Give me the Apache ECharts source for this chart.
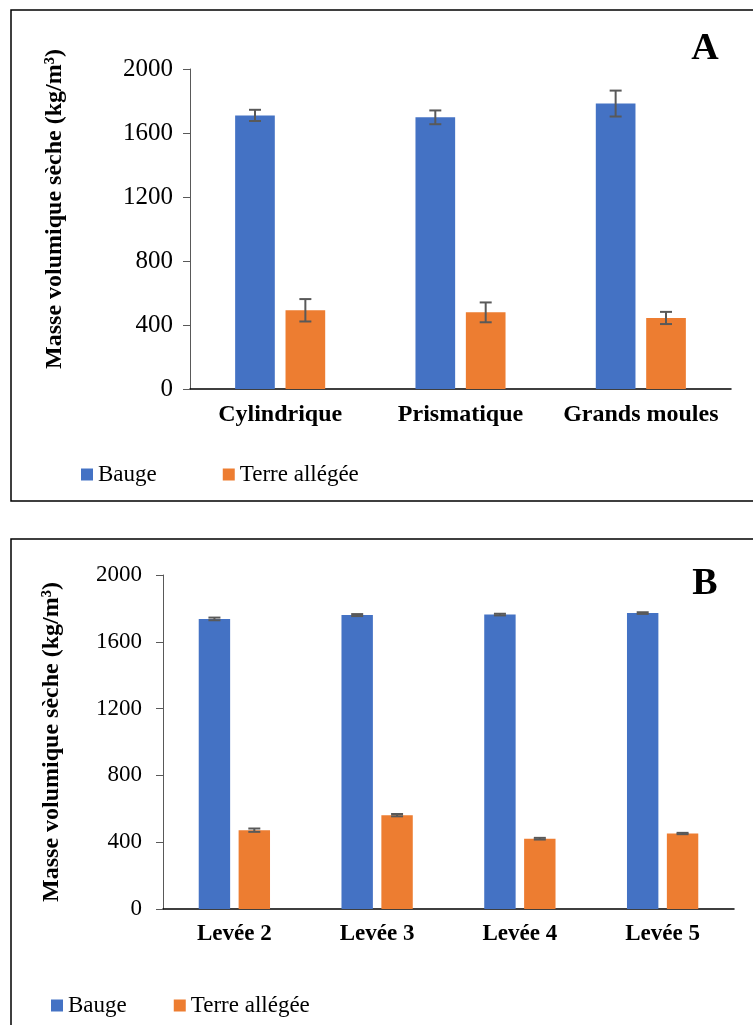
<!DOCTYPE html>
<html>
<head>
<meta charset="utf-8">
<script src="https://cdn.jsdelivr.net/npm/echarts@6/dist/echarts.min.js"></script>
<style>
html,body{margin:0;padding:0;background:#fff;}
#c{width:753px;height:1025px;}
</style>
</head>
<body>
<div id="c"></div>
<script>
// ---- Data ----
const catsA = ['Cylindrique', 'Prismatique', 'Grands moules'];
const baugeA = [1710, 1698, 1784];
const baugeAErr = [35, 43, 81];
const terreA = [492, 479, 444];
const terreAErr = [70, 62, 38];

const catsB = ['Levée 2', 'Levée 3', 'Levée 4', 'Levée 5'];
const baugeB = [1737, 1760, 1763, 1772];
const baugeBErr = [8, 6, 5, 5];
const terreB = [472, 562, 421, 452];
const terreBErr = [10, 7, 5, 4];

const yMin = 0, yMax = 2000, yStep = 400;
const seriesNames = ['Bauge', 'Terre allégée'];
const yName = 'Masse volumique sèche (kg/m³)';

// ---- Styles ----
const FONT = 'Liberation Serif, Times New Roman, serif';
const BLUE = '#4472C4', ORANGE = '#ED7D31', ERR = '#595959';
const BAR_W = 0.22, BAR_GAP = 0.27;

function errData(vals, errs) { return vals.map((v, i) => [i, v, errs[i]]); }

function errRender(sign) {
  return function (params, api) {
    const idx = api.value(0), mean = api.value(1), e = api.value(2);
    const band = api.size([1, 0])[0];
    const off = sign * band * BAR_W * (1 + BAR_GAP) / 2;
    const t = api.coord([idx, mean + e]);
    const b = api.coord([idx, mean - e]);
    const x = t[0] + off, cw = 6;
    const st = { stroke: ERR, lineWidth: 2 };
    return {
      type: 'group',
      children: [
        { type: 'line', shape: { x1: x, y1: t[1], x2: x, y2: b[1] }, style: st },
        { type: 'line', shape: { x1: x - cw, y1: t[1], x2: x + cw, y2: t[1] }, style: st },
        { type: 'line', shape: { x1: x - cw, y1: b[1], x2: x + cw, y2: b[1] }, style: st }
      ]
    };
  };
}

function xAx(cats, gi, fs) {
  return {
    type: 'category', gridIndex: gi, data: cats,
    axisTick: { show: false },
    axisLine: { show: true, lineStyle: { color: '#000', width: 1.5 } },
    axisLabel: { interval: 0, color: '#000', fontFamily: FONT, fontWeight: 'bold', fontSize: fs, margin: 14 }
  };
}
function yAx(gi, gap, margin, fs, pad) {
  return {
    type: 'value', gridIndex: gi, min: yMin, max: yMax, interval: yStep,
    name: yName, nameLocation: 'middle', nameRotate: 90, nameGap: gap,
    nameTextStyle: { color: '#000', fontFamily: FONT, fontWeight: 'bold', fontSize: 24, padding: pad },
    axisLine: { show: true, lineStyle: { color: '#595959', width: 1 } },
    axisTick: { show: true, length: 7, lineStyle: { color: '#595959' } },
    splitLine: { show: false },
    axisLabel: { color: '#000', fontFamily: FONT, fontSize: fs, margin: margin,
      formatter: function (v) { return String(v); } }
  };
}
function legend(left, top, gap) {
  return {
    data: seriesNames, left: left, top: top, itemGap: gap, padding: 0,
    icon: 'rect', itemWidth: 12, itemHeight: 12,
    textStyle: { color: '#000', fontFamily: FONT, fontSize: 23 }
  };
}
function bar(name, data, xi, color) {
  return {
    name: name, type: 'bar', xAxisIndex: xi, yAxisIndex: xi, data: data,
    barWidth: (BAR_W * 100) + '%', barGap: (BAR_GAP * 100) + '%',
    itemStyle: { color: color }, animation: false
  };
}
function err(name, vals, errs, xi, sign) {
  return {
    name: name, type: 'custom', xAxisIndex: xi, yAxisIndex: xi,
    data: errData(vals, errs), encode: { x: 0, y: 1 },
    renderItem: errRender(sign), z: 5, animation: false, silent: true
  };
}

const chart = echarts.init(document.getElementById('c'), null, { renderer: 'canvas' });
chart.setOption({
  backgroundColor: '#fff',
  animation: false,
  grid: [
    { left: 190, right: 22, top: 69, height: 320 },
    { left: 163, right: 19, top: 575, height: 334 }
  ],
  xAxis: [xAx(catsA, 0, 24), xAx(catsB, 1, 23)],
  yAxis: [yAx(0, 123, 17, 25, [0, 0, 0, 40]), yAx(1, 99, 21, 23, [0, 0, 0, 0])],
  legend: [legend(81, 463, 66), legend(51, 994, 47)],
  series: [
    bar('Bauge', baugeA, 0, BLUE),
    bar('Terre allégée', terreA, 0, ORANGE),
    err('errBaugeA', baugeA, baugeAErr, 0, -1),
    err('errTerreA', terreA, terreAErr, 0, 1),
    bar('Bauge', baugeB, 1, BLUE),
    bar('Terre allégée', terreB, 1, ORANGE),
    err('errBaugeB', baugeB, baugeBErr, 1, -1),
    err('errTerreB', terreB, terreBErr, 1, 1)
  ],
  graphic: [
    { type: 'rect', shape: { x: 11, y: 10, width: 760, height: 491 }, style: { fill: 'none', stroke: '#000', lineWidth: 1.5 }, z: -1 },
    { type: 'rect', shape: { x: 11, y: 539, width: 760, height: 520 }, style: { fill: 'none', stroke: '#000', lineWidth: 1.5 }, z: -1 },
    { type: 'text', x: 705, y: 49, style: { text: 'A', font: 'bold 38px ' + FONT, fill: '#000', textAlign: 'center', textVerticalAlign: 'middle' } },
    { type: 'text', x: 705, y: 584, style: { text: 'B', font: 'bold 38px ' + FONT, fill: '#000', textAlign: 'center', textVerticalAlign: 'middle' } }
  ]
});
</script>
</body>
</html>
